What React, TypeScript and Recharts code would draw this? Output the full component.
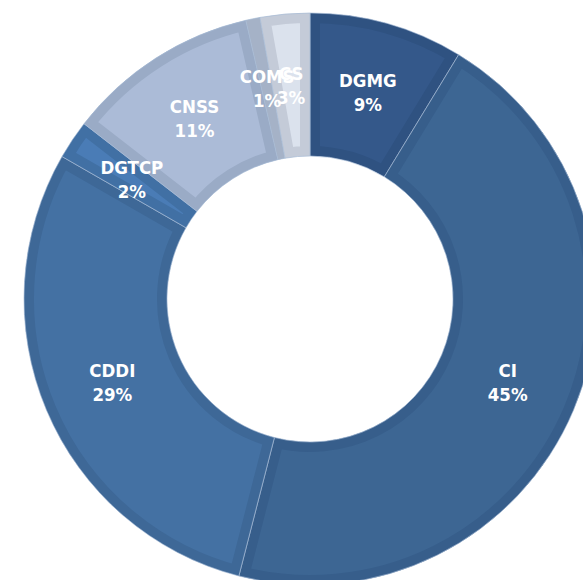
import { PieChart, Pie, Cell, Sector } from "recharts";

const names = ["DGMG", "CI", "CDDI", "DGTCP", "CNSS", "COMS", "CS"];
const values = [8.7, 45.3, 29.3, 2.2, 10.9, 0.8, 2.8];
const fills = ["#34588a", "#3d6693", "#4471a3", "#4a7cb6", "#abbbd7", "#b4bfd1", "#dbe2ed"];
const borders = ["#2f5281", "#375e8b", "#3e6897", "#4170a4", "#9aabc6", "#a5b2c7", "#c4cbd8"];

const data = names.map((name, i) => ({ name, value: values[i] }));

const RADIAN = Math.PI / 180;

// each slice gets a darker inner border: stroke clipped to the slice itself
function InsetSector(props: any) {
  const { cx, cy, innerRadius, outerRadius, startAngle, endAngle, fill, index } = props;
  const geom = { cx, cy, innerRadius, outerRadius, startAngle, endAngle };
  const id = `slice-clip-${index}`;
  return (
    <g>
      <defs>
        <clipPath id={id}>
          <Sector {...geom} />
        </clipPath>
      </defs>
      <Sector
        {...geom}
        fill={fill}
        stroke={borders[index]}
        strokeWidth={20}
        clipPath={`url(#${id})`}
      />
      <Sector {...geom} fill="none" stroke="#a7bcd6" strokeWidth={0.7} />
    </g>
  );
}

function renderLabel(props: any) {
  const { cx, cy, midAngle, innerRadius, outerRadius, percent, name } = props;
  const r = (innerRadius + outerRadius) / 2;
  const x = cx + r * Math.cos(-midAngle * RADIAN);
  const y = cy + r * Math.sin(-midAngle * RADIAN);
  return (
    <text
      x={x}
      y={y}
      fill="#ffffff"
      stroke="none"
      textAnchor="middle"
      fontFamily="'DejaVu Sans Condensed', 'DejaVu Sans', sans-serif"
      fontWeight="bold"
      fontSize={18.5}
    >
      <tspan x={x} y={y - 12} dominantBaseline="central">
        {name}
      </tspan>
      <tspan x={x} y={y + 12} dominantBaseline="central">
        {`${Math.round(percent * 100)}%`}
      </tspan>
    </text>
  );
}

export default function App() {
  return (
    <div style={{ position: "absolute", left: 0, top: 0, background: "#ffffff" }}>
      <PieChart width={583} height={580} margin={{ top: 0, right: 0, bottom: 0, left: 0 }}>
        <Pie
          data={data}
          dataKey="value"
          nameKey="name"
          cx={310}
          cy={299}
          innerRadius={143}
          outerRadius={286}
          startAngle={90}
          endAngle={-270}
          stroke="none"
          shape={InsetSector}
          label={renderLabel}
          labelLine={false}
          isAnimationActive={false}
        >
          {data.map((d, i) => (
            <Cell key={d.name} fill={fills[i]} />
          ))}
        </Pie>
      </PieChart>
    </div>
  );
}
